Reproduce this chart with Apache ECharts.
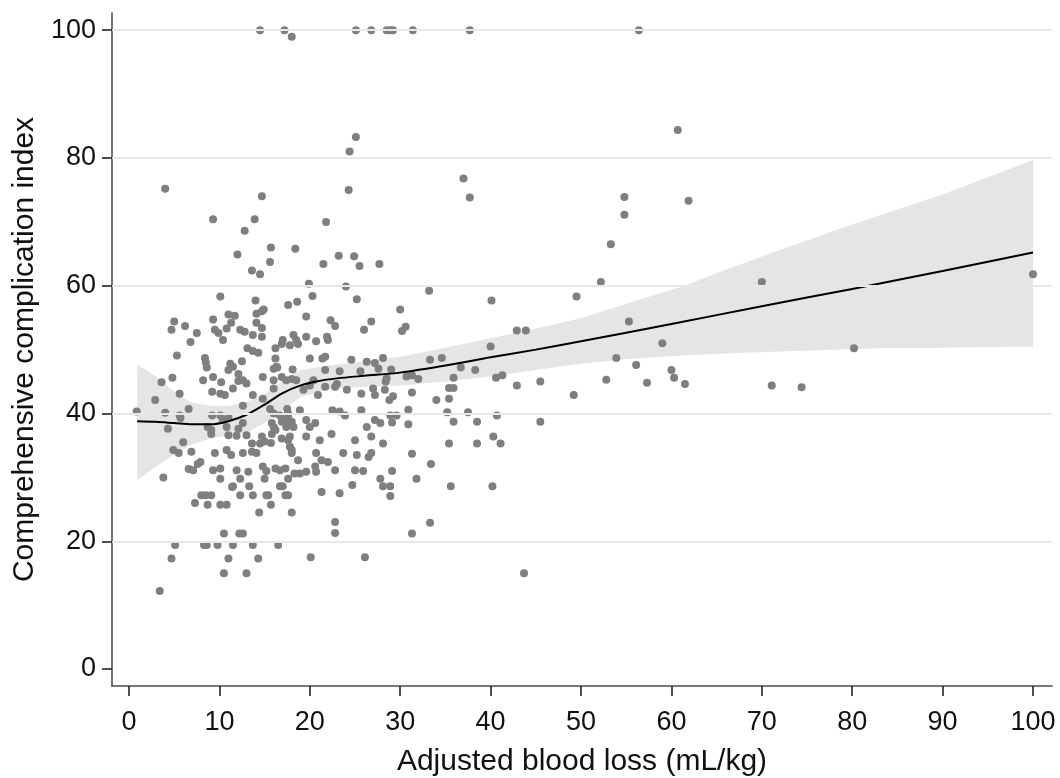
<!DOCTYPE html>
<html>
<head>
<meta charset="utf-8">
<script src="https://cdn.jsdelivr.net/npm/echarts@6/dist/echarts.min.js"></script>
<style>
  html, body { margin: 0; padding: 0; background: #fff; }
  #chart { width: 1060px; height: 778px; }
</style>
</head>
<body>
<div id="chart"></div>
<script>
// axis ticks
const xTicks = [0, 10, 20, 30, 40, 50, 60, 70, 80, 90, 100]
const yTicks = [0, 20, 40, 60, 80, 100]
const gridValues = [20, 40, 60, 80, 100]

// fitted curve (blood loss -> CCI)
const fitX = [0.9, 3, 5, 7, 9, 11, 13, 15, 17, 19, 21, 23, 26, 30, 35, 40, 45, 50, 60, 70, 80, 90, 100]
const fitY = [38.8, 38.7, 38.5, 38.3, 38.3, 38.8, 39.8, 41.4, 43.2, 44.4, 45.1, 45.5, 45.9, 46.4, 47.5, 48.8, 50.0, 51.3, 54.0, 56.8, 59.5, 62.3, 65.2]

// 95% CI band
const bandX = [0.9, 3, 5, 7, 9, 11, 13, 15, 17, 19, 22, 26, 30, 35, 40, 45, 50, 55, 61, 66, 72, 78, 83, 90, 100]
const bandHi = [47.7, 45.8, 43.4, 41.7, 41.2, 41.2, 41.8, 43.0, 45.2, 46.8, 47.5, 48.2, 48.9, 50.3, 51.8, 53.3, 54.9, 57.2, 59.8, 62.5, 65.6, 68.6, 71.0, 74.3, 79.7]
const bandLo = [29.5, 31.7, 33.6, 35.2, 36.1, 36.5, 37.0, 38.5, 40.5, 42.6, 43.7, 44.2, 44.4, 45.0, 45.8, 46.8, 47.8, 48.5, 49.1, 49.4, 49.7, 50.0, 50.2, 50.3, 50.5]

// patients, [blood loss, CCI]
const highPoints = [
  [14.5, 100], [17.2, 100], [18.0, 99.0], [25.1, 100], [26.8, 100], [28.5, 100], [28.9, 100], [29.2, 100],
  [31.4, 100], [37.7, 100], [56.4, 100], [25.1, 83.3], [24.4, 81.0], [60.7, 84.4],
  [4.0, 75.2], [14.7, 74.0], [9.3, 70.4], [13.9, 70.4], [12.8, 68.6], [12.0, 64.9], [15.7, 66.0], [18.4, 65.8],
  [21.8, 70.0], [24.3, 75.0], [13.6, 62.4], [14.5, 61.8], [15.6, 63.7], [19.9, 60.3], [21.5, 63.4], [23.2, 64.7],
  [24.9, 64.6], [25.5, 63.1], [27.7, 63.4], [24.0, 59.9], [37.0, 76.8], [37.7, 73.8]
]

const midPoints = [
  [33.2, 59.2], [40.1, 57.7], [49.5, 58.3], [30.0, 56.3], [30.2, 52.9], [30.6, 53.6], [42.9, 53.0], [43.9, 53.0],
  [28.1, 48.7], [33.3, 48.4], [34.6, 48.7], [40.0, 50.5], [29.0, 46.9], [28.5, 45.5], [28.4, 45.0], [30.7, 45.8],
  [31.3, 46.0], [32.0, 45.4], [36.7, 47.2], [38.3, 46.8], [35.9, 45.6], [40.6, 45.6], [41.3, 46.0], [45.5, 45.0],
  [42.9, 44.4], [35.4, 44.0], [35.9, 44.0], [31.3, 43.3], [29.2, 42.7], [28.8, 42.1], [34.0, 42.1], [35.4, 42.3],
  [49.2, 42.9], [30.9, 40.6], [35.2, 40.2], [37.5, 40.2], [28.9, 39.7], [29.6, 39.7], [40.7, 39.7], [29.1, 38.6],
  [30.9, 38.3], [35.9, 38.7], [38.5, 38.7], [45.5, 38.7], [40.3, 36.4], [28.1, 35.3], [35.4, 35.3], [38.5, 35.3],
  [41.1, 35.3], [27.8, 38.5], [31.3, 33.7], [33.4, 32.1], [29.1, 31.0], [27.8, 29.8], [31.8, 29.8], [28.1, 28.6],
  [28.9, 28.6], [35.6, 28.6], [40.2, 28.6], [28.9, 27.1], [33.3, 22.9], [31.3, 21.2], [43.7, 15.0]
]

const rightPoints = [
  [54.8, 73.9], [54.8, 71.1], [61.9, 73.3], [53.3, 66.5], [52.2, 60.6], [70.0, 60.6], [55.3, 54.4], [59.0, 51.0],
  [53.9, 48.7], [56.1, 47.6], [52.8, 45.3], [57.3, 44.8], [60.0, 46.8], [60.3, 45.6], [61.5, 44.6], [71.1, 44.4],
  [74.4, 44.1], [80.2, 50.2], [100, 61.8]
]

const clusterUpper = [
  [10.1, 58.3], [14.0, 57.7], [17.6, 57.0], [18.6, 57.5], [11.0, 55.5], [11.7, 55.3], [14.1, 55.6], [14.7, 56.0],
  [14.9, 56.3], [5.0, 54.4], [4.7, 53.1], [6.2, 53.7], [7.5, 52.6], [9.3, 54.7], [9.5, 53.1], [9.9, 52.6],
  [10.4, 51.5], [10.8, 53.3], [11.3, 54.2], [12.3, 53.1], [12.8, 52.8], [14.1, 54.2], [14.7, 53.4], [13.7, 52.3],
  [14.7, 52.0], [6.8, 51.2], [5.3, 49.1], [8.4, 48.7], [8.5, 48.0], [8.6, 47.2], [8.2, 45.2], [13.1, 50.2],
  [13.7, 49.8], [14.3, 49.5], [11.0, 46.8], [11.5, 47.3], [12.5, 48.2], [12.1, 46.2], [12.6, 45.2], [13.0, 44.7],
  [12.1, 45.1], [9.3, 45.7], [10.2, 44.9], [9.2, 43.4], [10.1, 43.1], [10.6, 42.9], [11.5, 43.9], [12.6, 41.2],
  [13.7, 42.9], [14.8, 45.7], [16.0, 47.0], [16.3, 47.3], [16.0, 43.9], [16.9, 45.7], [17.4, 45.2], [18.0, 45.4],
  [18.5, 45.2], [18.1, 46.9], [3.6, 44.9], [4.8, 45.6], [2.9, 42.1], [5.6, 43.1], [11.2, 47.8],
  [20.3, 58.4], [25.2, 57.9], [19.6, 55.2], [22.3, 54.6], [22.8, 53.7], [26.8, 54.4], [26.0, 53.1], [17.0, 51.5],
  [16.9, 50.9], [18.2, 52.3], [18.5, 51.5], [18.7, 50.9], [16.2, 50.2], [17.8, 50.7], [19.6, 52.0], [20.7, 51.3],
  [21.9, 52.0], [22.0, 51.5], [16.2, 48.6], [16.4, 47.2], [20.0, 48.6], [21.4, 48.6], [21.7, 48.9], [24.6, 48.4],
  [26.3, 48.1], [27.2, 47.9], [27.6, 47.0], [25.6, 46.6], [23.3, 46.6], [21.7, 46.8], [16.0, 45.2], [20.0, 44.4],
  [20.4, 45.2], [20.9, 42.9], [19.3, 43.7], [21.7, 44.2], [22.8, 44.2], [23.0, 44.6], [24.1, 43.7], [25.7, 43.1],
  [27.0, 43.9], [27.2, 42.9], [28.3, 43.7]
]

const clusterLower = [
  [0.85, 40.3], [4.0, 40.1], [5.6, 39.7], [5.7, 39.3], [6.6, 40.7], [4.3, 37.6], [9.2, 39.7], [8.7, 37.9],
  [9.1, 36.8], [9.1, 37.4], [10.1, 39.7], [10.4, 39.0], [11.0, 39.4], [10.8, 37.9], [11.0, 36.6], [11.9, 36.5],
  [12.6, 38.5], [12.1, 37.6], [14.8, 42.3], [15.6, 40.7], [16.0, 40.0], [16.7, 39.7], [17.5, 40.7], [17.6, 40.0],
  [16.9, 38.7], [17.4, 37.9], [16.0, 37.9], [15.8, 36.8], [13.0, 36.6], [13.6, 35.3], [14.5, 35.3], [14.7, 36.4],
  [15.0, 35.6], [15.7, 35.4], [16.9, 36.1], [17.8, 36.4], [18.0, 34.3], [6.0, 35.5], [4.9, 34.3], [5.5, 33.8],
  [6.9, 34.0], [9.5, 33.8], [10.8, 34.3], [11.3, 33.5], [12.6, 33.8], [13.6, 34.0], [14.1, 33.8], [7.6, 32.1],
  [7.9, 32.4], [6.6, 31.3], [7.1, 31.1], [9.3, 31.1], [10.1, 31.4], [11.9, 31.1], [13.2, 30.9], [14.8, 31.7],
  [15.2, 31.0], [16.2, 31.4], [16.7, 31.1], [17.3, 31.4], [3.8, 30.0], [18.3, 30.6],
  [22.5, 40.5], [23.3, 40.3], [23.9, 39.7], [25.7, 40.5], [27.2, 39.0], [26.3, 37.9], [18.9, 40.5], [19.6, 39.0],
  [20.0, 37.9], [20.6, 38.5], [18.2, 37.9], [17.3, 39.0], [17.6, 39.5], [18.0, 38.7], [15.8, 38.5], [16.2, 37.4],
  [17.6, 35.8], [17.8, 34.8], [18.0, 33.8], [19.6, 36.4], [21.1, 35.8], [22.4, 36.8], [20.7, 33.8], [21.3, 32.7],
  [22.0, 32.4], [25.0, 35.8], [26.8, 36.4], [23.7, 33.8], [25.2, 33.5], [26.5, 33.2], [26.8, 33.8], [18.7, 32.7],
  [19.6, 30.9], [18.9, 30.6], [20.6, 31.7], [20.7, 30.9], [22.8, 31.1], [25.0, 31.1], [25.9, 31.0]
]

const clusterLow = [
  [10.1, 29.8], [12.3, 29.8], [15.0, 29.8], [17.6, 29.8], [11.5, 28.6], [11.4, 28.5], [13.3, 28.6], [16.7, 28.6],
  [17.0, 28.6], [8.0, 27.2], [8.5, 27.2], [9.1, 27.2], [12.3, 27.2], [13.7, 27.2], [15.2, 27.2], [15.4, 27.2],
  [17.3, 27.2], [17.6, 27.2], [7.3, 26.0], [8.7, 25.7], [10.1, 25.7], [10.8, 25.7], [14.4, 24.5], [15.7, 25.7],
  [18.0, 24.5], [10.5, 21.2], [12.2, 21.2], [12.6, 21.2], [5.1, 19.4], [8.3, 19.4], [8.6, 19.4], [9.8, 19.4],
  [11.5, 19.4], [13.7, 19.4], [16.5, 19.4], [4.7, 17.3], [11.0, 17.3], [14.3, 17.3], [10.5, 15.0], [13.0, 15.0],
  [3.4, 12.2], [20.1, 17.5], [22.8, 23.0], [22.8, 21.3], [26.1, 17.5], [21.3, 27.7], [23.3, 27.5], [24.7, 28.8]
]

const points = [].concat(highPoints, midPoints, rightPoints, clusterUpper, clusterLower, clusterLow)

const font = "'Liberation Sans', Arial, sans-serif"
const axisColor = '#4d4d4d'

const chart = echarts.init(document.getElementById('chart'))

const option = {
  animation: false,
  backgroundColor: '#fff',
  grid: { left: 112, right: 8, top: 13, bottom: 92, containLabel: false, outerBoundsMode: 'none' },
  xAxis: {
    type: 'value',
    min: -1.88,
    max: 102.1,
    name: 'Adjusted blood loss (mL/kg)',
    nameLocation: 'middle',
    nameGap: 61,
    nameTextStyle: { fontFamily: font, fontSize: 30, color: '#111' },
    axisLine: { show: true, onZero: false, lineStyle: { color: axisColor, width: 1.6 } },
    axisTick: { show: true, length: 10, customValues: xTicks, lineStyle: { color: '#222', width: 1.6 } },
    axisLabel: { customValues: xTicks, fontFamily: font, fontSize: 27, color: '#111', margin: 23 },
    splitLine: { show: false }
  },
  yAxis: {
    type: 'value',
    min: -2.66,
    max: 102.7,
    name: 'Comprehensive complication index',
    nameLocation: 'middle',
    nameGap: 72,
    nameTextStyle: { fontFamily: font, fontSize: 30, color: '#111' },
    axisLine: { show: true, onZero: false, lineStyle: { color: axisColor, width: 1.6 } },
    axisTick: { show: true, length: 10, customValues: yTicks, lineStyle: { color: '#222', width: 1.6 } },
    axisLabel: { customValues: yTicks, fontFamily: font, fontSize: 27, color: '#111', margin: 16, padding: [8, 0, 0, 0] },
    splitLine: { show: false }
  },
  series: [
    {
      // horizontal grid lines
      type: 'line',
      data: [],
      z: 1,
      silent: true,
      markLine: {
        silent: true,
        symbol: 'none',
        label: { show: false },
        lineStyle: { color: '#e8e8e8', width: 2, type: 'solid' },
        data: gridValues.map(v => ({ yAxis: v }))
      }
    },
    {
      type: 'custom',
      z: 2,
      silent: true,
      data: bandX.map((x, i) => [x, bandLo[i], bandHi[i]]),
      encode: { x: 0, y: [1, 2] },
      renderItem: (params, api) => {
        if (params.dataIndex !== 0) return null
        const pts = []
        bandX.forEach((x, i) => pts.push(api.coord([x, bandHi[i]])))
        for (let i = bandX.length - 1; i >= 0; i--) pts.push(api.coord([bandX[i], bandLo[i]]))
        return {
          type: 'polygon',
          shape: { points: pts },
          style: { fill: 'rgba(0,0,0,0.1)' }
        }
      }
    },
    {
      type: 'scatter',
      z: 3,
      data: points,
      symbolSize: 8,
      itemStyle: { color: '#7f7f7f', opacity: 1 }
    },
    {
      type: 'line',
      z: 4,
      data: fitX.map((x, i) => [x, fitY[i]]),
      smooth: 0.3,
      showSymbol: false,
      lineStyle: { color: '#000', width: 2 }
    }
  ]
}

chart.setOption(option)
</script>
</body>
</html>
